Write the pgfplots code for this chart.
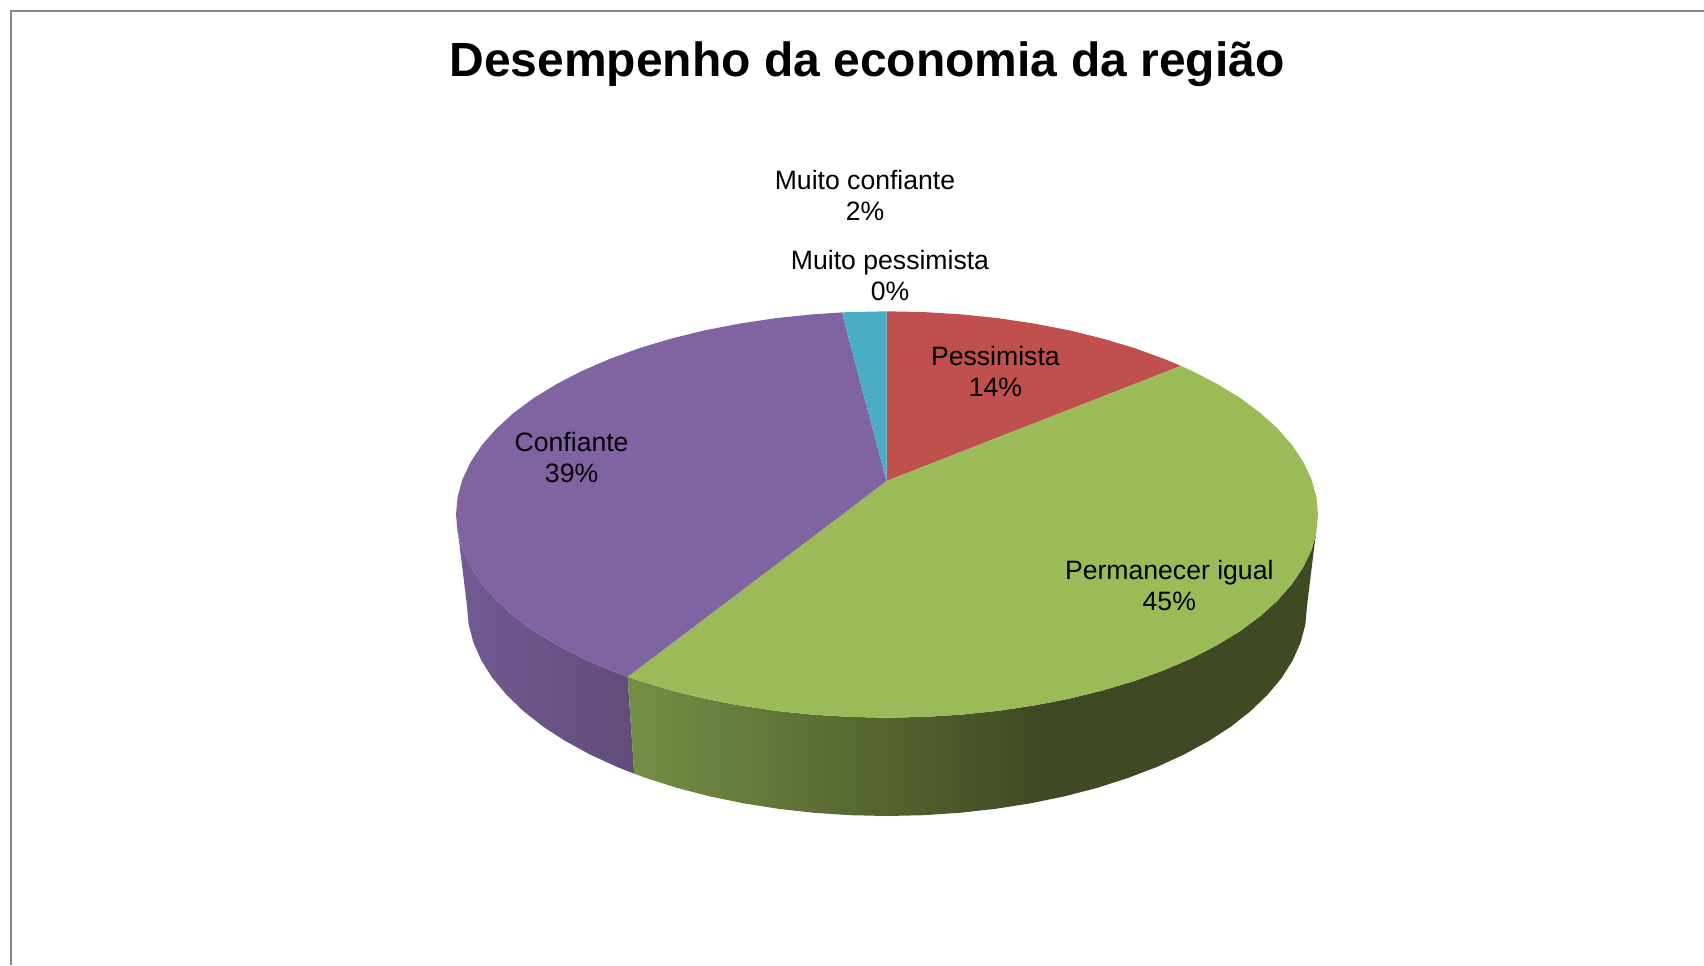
\documentclass[border=0pt]{standalone}
\usepackage{fontspec}
\setmainfont{Liberation Sans}
\usepackage{pgfplots}
\pgfplotsset{compat=1.18}
\definecolor{cRed}{HTML}{C0504D}
\definecolor{cGreen}{HTML}{9BBB59}
\definecolor{cPurple}{HTML}{8064A2}
\definecolor{cBlue}{HTML}{4BACC6}
\definecolor{cFrame}{HTML}{868686}
\definecolor{gsA}{HTML}{748F46}
\definecolor{gsB}{HTML}{505D2C}
\definecolor{gsC}{HTML}{3F4A24}
\definecolor{psA}{HTML}{725A93}
\definecolor{psB}{HTML}{624C7B}
\pgfdeclarehorizontalshading{greenside}{100bp}{
  color(0bp)=(gsA); color(25bp)=(gsA); color(46.3bp)=(gsB); color(55bp)=(gsC); color(100bp)=(gsC)}
\pgfdeclarehorizontalshading{purpleside}{100bp}{
  color(0bp)=(psA); color(25bp)=(psA); color(75bp)=(psB); color(100bp)=(psB)}
\tikzset{lbl/.style={align=center, inner sep=0pt, text=black, font=\fontsize{13.3}{15.75}\selectfont}}
\begin{document}
\begin{tikzpicture}
\useasboundingbox (0,0) rectangle (852pt,482.5pt);
\begin{axis}[
  at={(0,0)}, anchor=south west,
  scale only axis, width=852pt, height=482.5pt,
  xmin=0, xmax=1704, ymin=0, ymax=965, y dir=reverse,
  axis lines=none, clip=true]
% frame of the chart area
\addplot[cFrame, line width=1pt] coordinates {(11,965) (11,11) (1704,11)};
% purple side wall
\addplot[shading=purpleside, draw=none] coordinates {
(458.4,535.7) (462.5,549.8) (470.7,567.1) (482.0,584.0) (496.4,600.4) (513.7,616.1)
(533.9,631.1) (556.9,645.1) (582.2,658.2) (610,670.2) (627.6,676.8)
(634.2,773.7) (617,766.9) (590,754.5) (565.3,741) (542.9,726.5) (523.3,711)
(506.4,694.7) (492.3,677.8) (481.3,660.4) (473.4,642.5) (468.6,624.3) (467,606)
(458.4,535.7)};
% green side wall
\addplot[shading=greenside, draw=none] coordinates {
(627.6,676.8) (639.8,681.0) (671.5,690.5) (704.9,698.7) (739.6,705.4) (775.5,710.8)
(812.2,714.6) (849.4,716.9) (887,717.7) (924.6,716.9) (961.8,714.6) (998.5,710.8)
(1034.4,705.4) (1069.1,698.7) (1102.5,690.5) (1134.2,681.0) (1164.0,670.2) (1191.8,658.2)
(1217.1,645.1) (1240.1,631.1) (1260.3,616.1) (1277.6,600.4) (1292.0,584.0) (1303.3,567.1)
(1311.5,549.8) (1315.6,535.7)
(1307,606) (1305.4,624.3) (1300.6,642.5) (1292.7,660.4) (1281.7,677.8) (1267.6,694.7)
(1250.7,711) (1231.1,726.5) (1208.7,741) (1184,754.5) (1157,766.9) (1127.9,778)
(1097,787.9) (1064.5,796.3) (1030.6,803.3) (995.7,808.8) (959.9,812.8) (923.6,815.2)
(887,816) (850.4,815.2) (814.1,812.8) (778.3,808.8) (743.4,803.3) (709.5,796.3)
(677,787.9) (646.1,778) (634.2,773.7) (627.6,676.8)};
% Pessimista 14%
\addplot[fill=cRed, draw=none] coordinates {
(886.5,481) (886.5,311.3) (924.6,312.1) (961.8,314.4) (998.5,318.2) (1034.4,323.6) (1069.1,330.3)
(1102.5,338.5) (1134.2,348.0) (1164.0,358.8) (1180.9,365.9) (886.5,481)};
% Permanecer igual 45%
\addplot[fill=cGreen, draw=none] coordinates {
(886.5,481) (1180.9,365.9) (1191.8,370.8) (1217.1,383.9) (1240.1,397.9) (1260.3,412.9)
(1277.6,428.6) (1292.0,445.0) (1303.3,461.9) (1311.5,479.2) (1316.4,496.8) (1318,514.5)
(1316.4,532.2) (1311.5,549.8) (1303.3,567.1) (1292.0,584.0) (1277.6,600.4) (1260.3,616.1)
(1240.1,631.1) (1217.1,645.1) (1191.8,658.2) (1164.0,670.2) (1134.2,681.0) (1102.5,690.5)
(1069.1,698.7) (1034.4,705.4) (998.5,710.8) (961.8,714.6) (924.6,716.9) (887,717.7)
(849.4,716.9) (812.2,714.6) (775.5,710.8) (739.6,705.4) (704.9,698.7) (671.5,690.5)
(639.8,681.0) (627.6,676.8) (886.5,481)};
% Confiante 39%
\addplot[fill=cPurple, draw=none] coordinates {
(886.5,481) (627.6,676.8) (610,670.2) (582.2,658.2) (556.9,645.1) (533.9,631.1) (513.7,616.1)
(496.4,600.4) (482.0,584.0) (470.7,567.1) (462.5,549.8) (457.6,532.2) (456,514.5)
(457.6,496.8) (462.5,479.2) (470.7,461.9) (482.0,445.0) (496.4,428.6) (513.7,412.9)
(533.9,397.9) (556.9,383.9) (582.2,370.8) (610,358.8) (639.8,348.0) (671.5,338.5)
(704.9,330.3) (739.6,323.6) (775.5,318.2) (812.2,314.4) (841.9,312.4) (886.5,481)};
% Muito confiante 2%
\addplot[fill=cBlue, draw=none] coordinates {
(886.5,481) (841.9,312.4) (849.4,312.1) (886.5,311.3) (886.5,481)};
\node[font=\fontsize{24}{28}\selectfont\bfseries] at (axis cs:867,64) {Desempenho da economia da região};
\node[lbl] at (axis cs:865,195.5) {Muito confiante\\2\%};
\node[lbl] at (axis cs:890,275.5) {Muito pessimista\\0\%};
\node[lbl] at (axis cs:995.4,371.6) {Pessimista\\14\%};
\node[lbl] at (axis cs:571.6,457.5) {Confiante\\39\%};
\node[lbl] at (axis cs:1169.3,585.7) {Permanecer igual\\45\%};
\end{axis}
\end{tikzpicture}
\end{document}
